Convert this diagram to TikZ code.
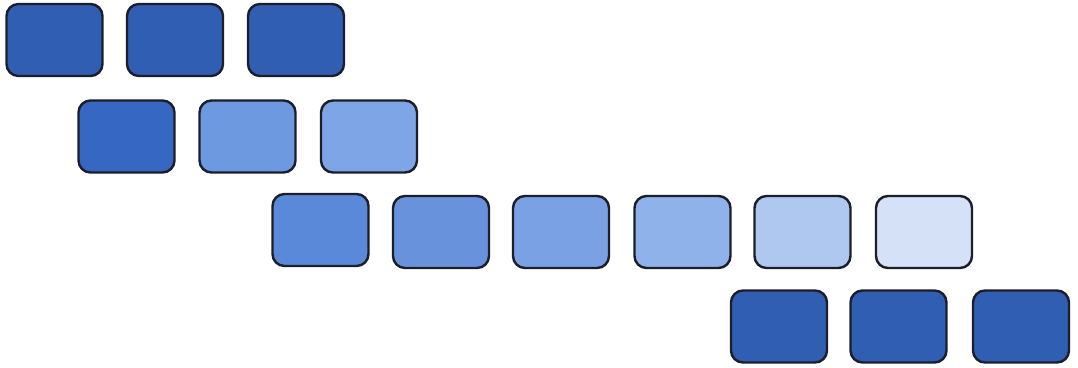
\documentclass[tikz,border=0pt]{standalone}
\begin{document}
\begin{tikzpicture}[x=1pt,y=-1pt,
  tile/.style={draw=edgecol, line width=2.4pt, rounded corners=12pt,
    minimum width=96pt, minimum height=72pt, inner sep=0pt},
  dark/.style={tile, fill=dkblue},
]
\definecolor{edgecol}{HTML}{1C1E2A}
\definecolor{dkblue}{HTML}{2F5EB3}
\definecolor{rowtwoa}{HTML}{3667C2}
\definecolor{rowtwob}{HTML}{6C99E0}
\definecolor{rowtwoc}{HTML}{7EA5E6}
\definecolor{ra}{HTML}{5B89DA}
\definecolor{rb}{HTML}{6893DC}
\definecolor{rc}{HTML}{7AA1E3}
\definecolor{rd}{HTML}{90B2EB}
\definecolor{re}{HTML}{AEC8F0}
\definecolor{rf}{HTML}{D4E1F7}
\useasboundingbox (0,0) rectangle (1078,367);
\fill[white] (0,0) rectangle (1078,367);
% row 1
\node[dark] (a1) at (54.5,40) {};
\node[dark] (a2) at (175,40) {};
\node[dark] (a3) at (296,40) {};
% row 2
\node[tile, fill=rowtwoa] (b1) at (126.5,136.5) {};
\node[tile, fill=rowtwob] (b2) at (247.5,136.5) {};
\node[tile, fill=rowtwoc] (b3) at (369,136.5) {};
% row 3
\node[tile, fill=ra] (c1) at (320.5,230) {};
\node[tile, fill=rb] (c2) at (441,232) {};
\node[tile, fill=rc] (c3) at (561,232) {};
\node[tile, fill=rd] (c4) at (682.5,232) {};
\node[tile, fill=re] (c5) at (802.5,232) {};
\node[tile, fill=rf] (c6) at (924,232) {};
% row 4
\node[dark] (d1) at (779,326.5) {};
\node[dark] (d2) at (898.5,326.5) {};
\node[dark] (d3) at (1021,326.5) {};
\end{tikzpicture}
\end{document}
